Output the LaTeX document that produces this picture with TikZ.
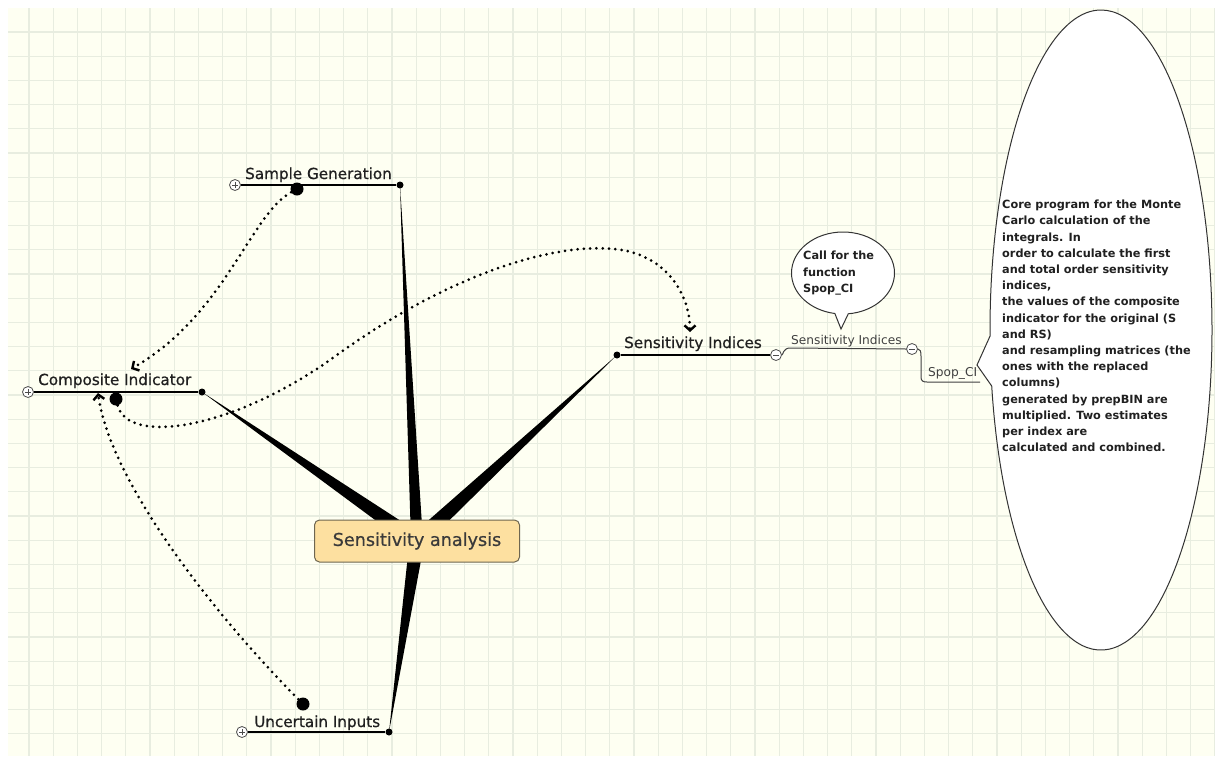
\documentclass[tikz,border=0pt]{standalone}
\usepackage{fontspec}
\setmainfont{DejaVu Sans}
\newfontfamily\topicfont[FakeBold=0.7]{DejaVu Sans}
\usetikzlibrary{arrows.meta,calc,shapes.callouts}
\definecolor{paperbg}{HTML}{FEFFF2}
\definecolor{gridc}{HTML}{E8EDE0}
\definecolor{rootfill}{HTML}{FDE0A0}
\definecolor{rootdraw}{HTML}{6E6650}
\definecolor{roottext}{HTML}{3A3A3A}
\definecolor{topictext}{HTML}{202020}
\definecolor{subtext}{HTML}{404040}
\tikzset{
  px/.style={x=1pt, y=-1pt},
  gridline/.style={draw=gridc, line width=1.3pt},
  branch/.style={fill=black},                                   % tapered main branches
  tline/.style={black, line width=1.2pt},                       % topic underline
  sline/.style={black!75, line width=1pt},                      % subtopic underline
  topic/.style={anchor=base west, inner sep=0pt, text=topictext, font=\topicfont\fontsize{15.2}{18}\selectfont},
  subtopic/.style={anchor=base west, inner sep=0pt, text=subtext, font=\fontsize{12.2}{14}\selectfont},
  rootbox/.style={draw=rootdraw, fill=rootfill, rounded corners=5pt, line width=1pt,
    minimum width=205pt, minimum height=42pt, text=roottext, font=\topicfont\fontsize{17.6}{20}\selectfont},
  enddot/.style={circle, fill=black, inner sep=0pt, minimum size=7pt},
  bigdot/.style={circle, fill=black, inner sep=0pt, minimum size=13pt},
  fold/.style={circle, draw=black!70, fill=white, line width=0.8pt, inner sep=0pt, minimum size=11pt},
  foldplus/.style={fold, path picture={
    \draw[line width=.8pt] ([xshift=-3pt]path picture bounding box.center) -- ([xshift=3pt]path picture bounding box.center)
      ([yshift=-3pt]path picture bounding box.center) -- ([yshift=3pt]path picture bounding box.center);}},
  foldminus/.style={fold, path picture={
    \draw[line width=.8pt] ([xshift=-3pt]path picture bounding box.center) -- ([xshift=3pt]path picture bounding box.center);}},
  relation/.style={line width=3pt, dash pattern=on 0pt off 6.3pt, line cap=round,
    -{Straight Barb[length=5pt,width=11pt,line width=2.4pt]}},    % dotted relationship
  bubble/.style={ellipse callout, draw=black!80, fill=white, line width=1pt, inner sep=0pt},
  bubbletext/.style={anchor=north west, inner sep=0pt, align=left, text=topictext,
    font=\bfseries\fontsize{11.3}{16.5}\selectfont},
}

\begin{document}
\begin{tikzpicture}[px]
  \useasboundingbox (0,0) rectangle (1215,756);
  % paper and grid
  \fill[white] (0,0) rectangle (1215,756);
  \fill[paperbg] (8,8) rectangle (1215,756);
  \foreach \i in {1,...,50}
    \draw[gridline] ({4.8+24.2*\i},8) -- ({4.8+24.2*\i},756);
  \foreach \j in {1,...,30}
    \draw[gridline] (8,{7.8+24.2*\j}) -- (1215,{7.8+24.2*\j});

  % branch ends
  \coordinate (root) at (417,541);
  \coordinate (sgE) at (400,185);
  \coordinate (ciE) at (202,392);
  \coordinate (siE) at (617,355);
  \coordinate (uiE) at (389,732);

  % tapered branches
  \fill[branch] (sgE) -- ($(root)!6pt!90:(sgE)$) -- ($(root)!6pt!-90:(sgE)$) -- cycle;
  \fill[branch] (ciE) -- ($(root)!8pt!90:(ciE)$) -- ($(root)!8pt!-90:(ciE)$) -- cycle;
  \fill[branch] (siE) -- ($(root)!8pt!90:(siE)$) -- ($(root)!8pt!-90:(siE)$) -- cycle;
  \fill[branch] (uiE) -- ($(root)!7.5pt!90:(uiE)$) -- ($(root)!7.5pt!-90:(uiE)$) -- cycle;

  \node[rootbox] (rootBox) at (417,541) {Sensitivity analysis};

  % topics
  \node[foldplus] (sgP) at (235,185) {};
  \node[enddot] (sgDot) at (sgE) {};
  \draw[tline] (sgP) -- (sgDot);
  \node[topic] (sgText) at (245,179) {Sample Generation};

  \node[foldplus] (ciP) at (28,392) {};
  \node[enddot] (ciDot) at (ciE) {};
  \draw[tline] (ciP) -- (ciDot);
  \node[topic] (ciText) at (38,385) {Composite Indicator};

  \node[enddot] (siDot) at (siE) {};
  \node[foldminus] (siM) at (776,355) {};
  \draw[tline] (siDot) -- (siM);
  \node[topic] (siText) at (624,348) {Sensitivity Indices};

  \node[foldplus] (uiP) at (242,732) {};
  \node[enddot] (uiDot) at (uiE) {};
  \draw[tline] (uiP) -- (uiDot);
  \node[topic] (uiText) at (254,727) {Uncertain Inputs};

  % subtopics
  \node[foldminus] (ssM) at (912,349) {};
  \draw[sline] (siM.east) .. controls (783,355) and (783,348) .. (790,348) -- (ssM.west);
  \node[subtopic] (ssText) at (791,344) {Sensitivity Indices};
  \coordinate (spE) at (980,382);
  \draw[sline] (ssM.east) .. controls (920,349) and (921,351) .. (921,356) -- (921,377)
    .. controls (921,381) and (923,382) .. (927,382) -- (spE);
  \node[subtopic] (spText) at (928,376) {Spop\_CI};

  % relationships
  \node[bigdot] (sgRel) at (297,189) {};
  \node[bigdot] (ciRel) at (116,399) {};
  \node[bigdot] (uiRel) at (303,704) {};
  \coordinate (ciIn) at (131,369);
  \coordinate (ciUp) at (98,393);
  \coordinate (siIn) at (690,332);
  \draw[relation] (sgRel) .. controls (250,215) and (225,315) .. (ciIn);
  \draw[relation] (ciRel) .. controls (128,445) and (230,430) .. (330,360)
    .. controls (450,272) and (560,240) .. (622,250) .. controls (672,259) and (690,300) .. (siIn);
  \draw[relation] (uiRel) .. controls (210,610) and (110,480) .. (ciUp);

  % callouts
  \coordinate (callTip) at (841,329);
  \node[bubble, minimum width=103pt, minimum height=82pt, callout absolute pointer={(callTip)}]
    (callBubble) at (843,273) {};
  \node[bubbletext] (callText) at (803,251) {Call for the\\function\\Spop\_CI};

  \coordinate (noteTip) at (977,365);
  \node[bubble, minimum width=222pt, minimum height=640pt, callout pointer arc=9,
    callout absolute pointer={(noteTip)}] (noteBubble) at (1101,330) {};
  \node[bubbletext, font=\bfseries\fontsize{11.3}{16.2}\selectfont] (noteText) at (1002,200)
    {Core program for the Monte\\Carlo calculation of the\\integrals. In\\order to calculate the first\\
     and total order sensitivity\\indices,\\the values of the composite\\indicator for the original (S\\
     and RS)\\and resampling matrices (the\\ones with the replaced\\columns)\\generated by prepBIN are\\
     multiplied. Two estimates\\per index are\\calculated and combined.};
\end{tikzpicture}
\end{document}
